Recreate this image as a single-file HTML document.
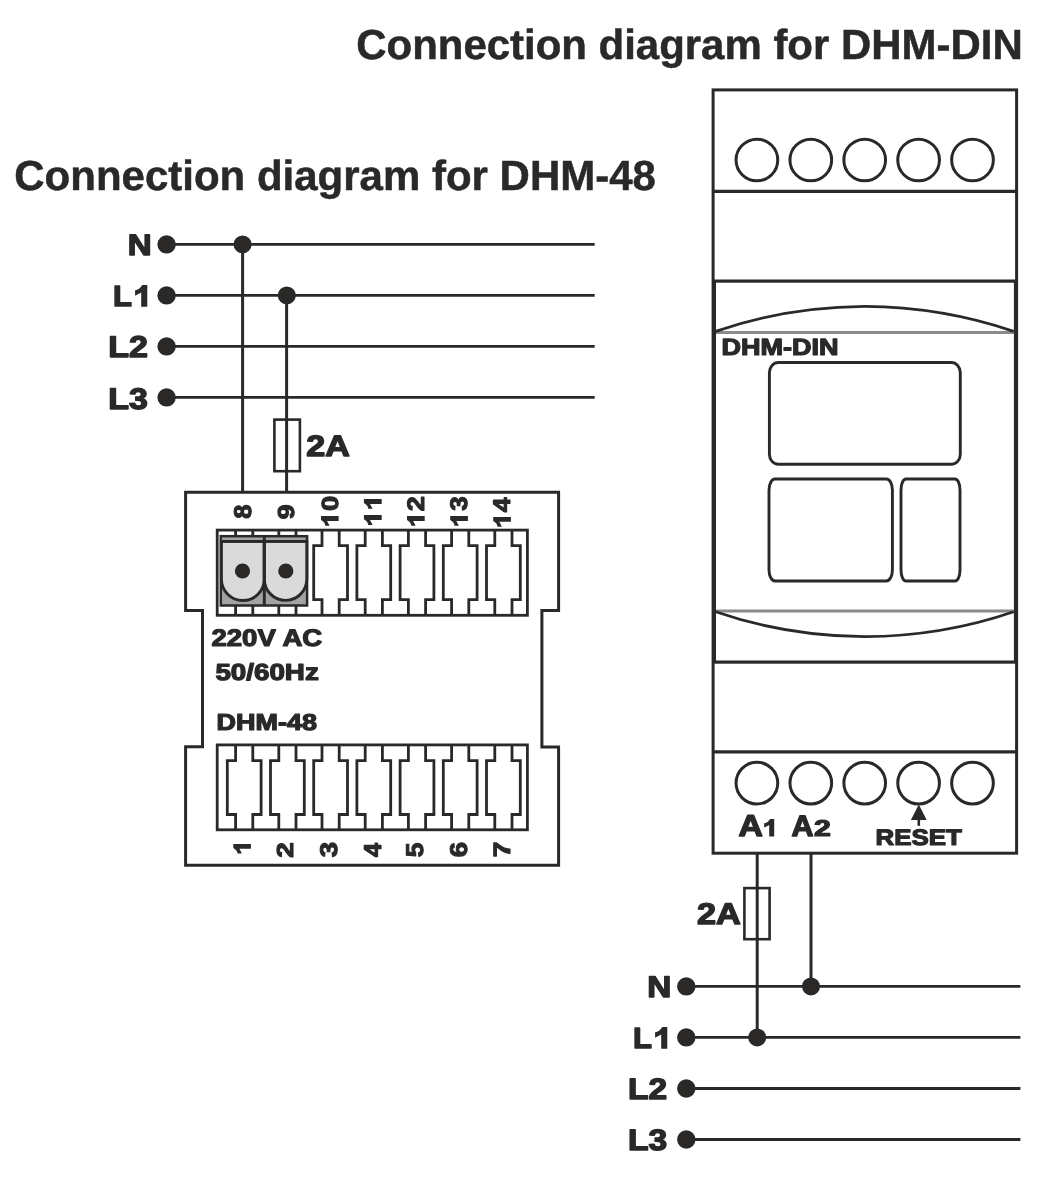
<!DOCTYPE html>
<html><head><meta charset="utf-8"><title>Connection diagrams</title>
<style>
html,body{margin:0;padding:0;background:#fff;}
body{width:1056px;height:1188px;overflow:hidden;}
svg{display:block;will-change:transform;}
text{font-family:'Liberation Sans',sans-serif;font-weight:bold;fill:#2a2928;text-rendering:geometricPrecision;}
</style></head><body>
<svg width="1056" height="1188" viewBox="0 0 1056 1188">
<line x1="166.6" y1="244.4" x2="594.7" y2="244.4" stroke="#2a2928" stroke-width="2.8"/>
<circle cx="166.6" cy="244.4" r="9.2" fill="#2a2928"/>
<line x1="166.6" y1="295.4" x2="594.7" y2="295.4" stroke="#2a2928" stroke-width="2.8"/>
<circle cx="166.6" cy="295.4" r="9.2" fill="#2a2928"/>
<line x1="166.6" y1="346.4" x2="594.7" y2="346.4" stroke="#2a2928" stroke-width="2.8"/>
<circle cx="166.6" cy="346.4" r="9.2" fill="#2a2928"/>
<line x1="166.6" y1="397.4" x2="594.7" y2="397.4" stroke="#2a2928" stroke-width="2.8"/>
<circle cx="166.6" cy="397.4" r="9.2" fill="#2a2928"/>
<line x1="242.6" y1="244.4" x2="242.6" y2="492.2" stroke="#2a2928" stroke-width="3"/>
<line x1="286.6" y1="295.4" x2="286.6" y2="492.2" stroke="#2a2928" stroke-width="3"/>
<circle cx="242.6" cy="244.4" r="9" fill="#2a2928"/>
<circle cx="286.8" cy="295.4" r="9" fill="#2a2928"/>
<rect x="274.4" y="419.6" width="25.5" height="51.6" fill="none" stroke="#2a2928" stroke-width="2.6"/>
<path d="M185.6 492.2 H558.6 V610.4 H541.9 V746.9 H558.6 V865.2 H185.6 V746.8 H202.5 V610.5 H185.6 Z" fill="none" stroke="#2a2928" stroke-width="3"/>
<rect x="217.2" y="530.1" width="310.2" height="85.19999999999993" fill="none" stroke="#2a2928" stroke-width="2.8"/>
<path d="M235.6 530.1 V545.7 H227.3 V599.7 H235.6 V615.3 M252.8 530.1 V545.7 H261.1 V599.7 H252.8 V615.3" fill="none" stroke="#2a2928" stroke-width="2.8"/>
<path d="M278.8 530.1 V545.7 H270.5 V599.7 H278.8 V615.3 M296.0 530.1 V545.7 H304.3 V599.7 H296.0 V615.3" fill="none" stroke="#2a2928" stroke-width="2.8"/>
<path d="M322.0 530.1 V545.7 H313.7 V599.7 H322.0 V615.3 M339.2 530.1 V545.7 H347.5 V599.7 H339.2 V615.3" fill="none" stroke="#2a2928" stroke-width="2.8"/>
<path d="M365.2 530.1 V545.7 H356.9 V599.7 H365.2 V615.3 M382.4 530.1 V545.7 H390.7 V599.7 H382.4 V615.3" fill="none" stroke="#2a2928" stroke-width="2.8"/>
<path d="M408.4 530.1 V545.7 H400.1 V599.7 H408.4 V615.3 M425.6 530.1 V545.7 H433.9 V599.7 H425.6 V615.3" fill="none" stroke="#2a2928" stroke-width="2.8"/>
<path d="M451.6 530.1 V545.7 H443.3 V599.7 H451.6 V615.3 M468.8 530.1 V545.7 H477.1 V599.7 H468.8 V615.3" fill="none" stroke="#2a2928" stroke-width="2.8"/>
<path d="M494.8 530.1 V545.7 H486.5 V599.7 H494.8 V615.3 M512.0 530.1 V545.7 H520.3 V599.7 H512.0 V615.3" fill="none" stroke="#2a2928" stroke-width="2.8"/>
<rect x="217.2" y="744.9" width="310.2" height="84.89999999999998" fill="none" stroke="#2a2928" stroke-width="2.8"/>
<path d="M235.6 744.9 V760.6 H227.3 V814.5 H235.6 V829.8 M252.8 744.9 V760.6 H261.1 V814.5 H252.8 V829.8" fill="none" stroke="#2a2928" stroke-width="2.8"/>
<path d="M278.8 744.9 V760.6 H270.5 V814.5 H278.8 V829.8 M296.0 744.9 V760.6 H304.3 V814.5 H296.0 V829.8" fill="none" stroke="#2a2928" stroke-width="2.8"/>
<path d="M322.0 744.9 V760.6 H313.7 V814.5 H322.0 V829.8 M339.2 744.9 V760.6 H347.5 V814.5 H339.2 V829.8" fill="none" stroke="#2a2928" stroke-width="2.8"/>
<path d="M365.2 744.9 V760.6 H356.9 V814.5 H365.2 V829.8 M382.4 744.9 V760.6 H390.7 V814.5 H382.4 V829.8" fill="none" stroke="#2a2928" stroke-width="2.8"/>
<path d="M408.4 744.9 V760.6 H400.1 V814.5 H408.4 V829.8 M425.6 744.9 V760.6 H433.9 V814.5 H425.6 V829.8" fill="none" stroke="#2a2928" stroke-width="2.8"/>
<path d="M451.6 744.9 V760.6 H443.3 V814.5 H451.6 V829.8 M468.8 744.9 V760.6 H477.1 V814.5 H468.8 V829.8" fill="none" stroke="#2a2928" stroke-width="2.8"/>
<path d="M494.8 744.9 V760.6 H486.5 V814.5 H494.8 V829.8 M512.0 744.9 V760.6 H520.3 V814.5 H512.0 V829.8" fill="none" stroke="#2a2928" stroke-width="2.8"/>
<rect x="220.8" y="536.2" width="86.3" height="69.3" fill="#a2a3a2" stroke="#2a2928" stroke-width="2.5"/>
<path d="M221.4 541.4 V579.1 A21.45 21.45 0 0 0 264.3 579.1 V541.4 Z" fill="#d9dad9" stroke="#2a2928" stroke-width="2.9"/>
<path d="M264.3 541.4 V579.1 A21.25 21.25 0 0 0 306.8 579.1 V541.4 Z" fill="#d9dad9" stroke="#2a2928" stroke-width="2.9"/>
<line x1="220.8" y1="541.4" x2="307.1" y2="541.4" stroke="#2a2928" stroke-width="2.7"/>
<line x1="264.3" y1="536.2" x2="264.3" y2="605.5" stroke="#2a2928" stroke-width="3"/>
<circle cx="242.5" cy="571" r="7.6" fill="#2a2928"/>
<circle cx="285.8" cy="571" r="7.6" fill="#2a2928"/>
<rect x="713.1" y="89.9" width="303.5" height="763.3" fill="none" stroke="#2a2928" stroke-width="3"/>
<line x1="713.1" y1="191.3" x2="1016.6" y2="191.3" stroke="#2a2928" stroke-width="3.2"/>
<line x1="713.1" y1="751.9" x2="1016.6" y2="751.9" stroke="#2a2928" stroke-width="3.2"/>
<rect x="714.4" y="281.1" width="301.1" height="381" fill="none" stroke="#2a2928" stroke-width="3.2"/>
<circle cx="756.9" cy="160" r="20.85" fill="none" stroke="#2a2928" stroke-width="3.0"/>
<circle cx="756.9" cy="783.1" r="20.85" fill="none" stroke="#2a2928" stroke-width="3.0"/>
<circle cx="810.8" cy="160" r="20.85" fill="none" stroke="#2a2928" stroke-width="3.0"/>
<circle cx="810.8" cy="783.1" r="20.85" fill="none" stroke="#2a2928" stroke-width="3.0"/>
<circle cx="864.7" cy="160" r="20.85" fill="none" stroke="#2a2928" stroke-width="3.0"/>
<circle cx="864.7" cy="783.1" r="20.85" fill="none" stroke="#2a2928" stroke-width="3.0"/>
<circle cx="918.6" cy="160" r="20.85" fill="none" stroke="#2a2928" stroke-width="3.0"/>
<circle cx="918.6" cy="783.1" r="20.85" fill="none" stroke="#2a2928" stroke-width="3.0"/>
<circle cx="972.5" cy="160" r="20.85" fill="none" stroke="#2a2928" stroke-width="3.0"/>
<circle cx="972.5" cy="783.1" r="20.85" fill="none" stroke="#2a2928" stroke-width="3.0"/>
<line x1="716" y1="332.5" x2="1014" y2="332.5" stroke="#8a8a8a" stroke-width="2.8"/>
<line x1="716" y1="610.95" x2="1014" y2="610.95" stroke="#8a8a8a" stroke-width="3.0"/>
<path d="M715.7 331.4 Q786.2 307 864.5 306.4 Q942.8 307 1013.7 331.4" fill="none" stroke="#2a2928" stroke-width="2.8"/>
<path d="M715.7 611.7 Q786.2 636.1 864.5 636.7 Q942.8 636.1 1013.7 611.7" fill="none" stroke="#2a2928" stroke-width="2.8"/>
<rect x="769.4" y="362.5" width="190.9" height="101.8" rx="9" ry="10" fill="none" stroke="#2a2928" stroke-width="2.9"/>
<rect x="769" y="479" width="123.4" height="102" rx="6" ry="11" fill="none" stroke="#2a2928" stroke-width="2.9"/>
<rect x="901" y="479" width="59" height="102" rx="5" ry="11" fill="none" stroke="#2a2928" stroke-width="2.9"/>
<path d="M918.8 804.6 L926.7 819.9 L910.9 819.9 Z" fill="#2a2928"/>
<line x1="918.8" y1="818" x2="918.8" y2="825.8" stroke="#2a2928" stroke-width="2.6"/>
<line x1="757.2" y1="853" x2="757.2" y2="1037.4" stroke="#2a2928" stroke-width="3"/>
<line x1="811" y1="853" x2="811" y2="986.4" stroke="#2a2928" stroke-width="3"/>
<rect x="744.4" y="888.1" width="25.2" height="51.1" fill="none" stroke="#2a2928" stroke-width="2.6"/>
<line x1="686.3" y1="986.4" x2="1020.4" y2="986.4" stroke="#2a2928" stroke-width="2.8"/>
<circle cx="686.3" cy="986.4" r="9.2" fill="#2a2928"/>
<line x1="686.3" y1="1037.4" x2="1020.4" y2="1037.4" stroke="#2a2928" stroke-width="2.8"/>
<circle cx="686.3" cy="1037.4" r="9.2" fill="#2a2928"/>
<line x1="686.3" y1="1088.5" x2="1020.4" y2="1088.5" stroke="#2a2928" stroke-width="2.8"/>
<circle cx="686.3" cy="1088.5" r="9.2" fill="#2a2928"/>
<line x1="686.3" y1="1139.5" x2="1020.4" y2="1139.5" stroke="#2a2928" stroke-width="2.8"/>
<circle cx="686.3" cy="1139.5" r="9.2" fill="#2a2928"/>
<circle cx="811" cy="986.4" r="9" fill="#2a2928"/>
<circle cx="757.2" cy="1037.4" r="9" fill="#2a2928"/>
<text transform="translate(356.26 58.65) rotate(0.01)" x="0" y="0" font-size="42.00" stroke="#2a2928" stroke-width="0.5" stroke-linejoin="round" textLength="666.41" lengthAdjust="spacingAndGlyphs">Connection diagram for DHM-DIN</text>
<text transform="translate(14.24 190.20) rotate(0.01)" x="0" y="0" font-size="42.00" stroke="#2a2928" stroke-width="0.5" stroke-linejoin="round" textLength="641.69" lengthAdjust="spacingAndGlyphs">Connection diagram for DHM-48</text>
<text transform="translate(127.63 255.18) rotate(0.01)" x="0" y="0" font-size="29.55" stroke="#2a2928" stroke-width="1.4" stroke-linejoin="round" textLength="23.90" lengthAdjust="spacingAndGlyphs">N</text>
<text transform="translate(112.96 305.68) rotate(0.01)" x="0" y="0" font-size="29.24" stroke="#2a2928" stroke-width="1.4" stroke-linejoin="round" textLength="18.96" lengthAdjust="spacingAndGlyphs">L</text>
<text transform="translate(108.29 357.43) rotate(0.01)" x="0" y="0" font-size="30.03" stroke="#2a2928" stroke-width="1.4" stroke-linejoin="round" textLength="39.72" lengthAdjust="spacingAndGlyphs">L2</text>
<text transform="translate(108.31 408.52) rotate(0.01)" x="0" y="0" font-size="29.71" stroke="#2a2928" stroke-width="1.4" stroke-linejoin="round" textLength="39.58" lengthAdjust="spacingAndGlyphs">L3</text>
<text transform="translate(306.25 456.18) rotate(0.01)" x="0" y="0" font-size="29.59" stroke="#2a2928" stroke-width="1.4" stroke-linejoin="round" textLength="43.55" lengthAdjust="spacingAndGlyphs">2A</text>
<text transform="translate(211.45 646.31) rotate(0.01)" x="0" y="0" font-size="24.00" stroke="#2a2928" stroke-width="1.2" stroke-linejoin="round" textLength="110.80" lengthAdjust="spacingAndGlyphs">220V AC</text>
<text transform="translate(215.38 680.36) rotate(0.01)" x="0" y="0" font-size="23.29" stroke="#2a2928" stroke-width="1.2" stroke-linejoin="round" textLength="103.40" lengthAdjust="spacingAndGlyphs">50/60Hz</text>
<text transform="translate(216.54 730.35) rotate(0.01)" x="0" y="0" font-size="22.95" stroke="#2a2928" stroke-width="1.2" stroke-linejoin="round" textLength="100.35" lengthAdjust="spacingAndGlyphs">DHM-48</text>
<text transform="translate(721.42 355.19) rotate(0.01)" x="0" y="0" font-size="23.42" stroke="#2a2928" stroke-width="1.2" stroke-linejoin="round" textLength="117.17" lengthAdjust="spacingAndGlyphs">DHM-DIN</text>
<text transform="translate(875.62 844.70) rotate(0.01)" x="0" y="0" font-size="22.44" stroke="#2a2928" stroke-width="1.2" stroke-linejoin="round" textLength="86.25" lengthAdjust="spacingAndGlyphs">RESET</text>
<text transform="translate(738.54 836.43) rotate(0.01)" x="0" y="0" font-size="30.10" stroke="#2a2928" stroke-width="1.4" stroke-linejoin="round" textLength="24.32" lengthAdjust="spacingAndGlyphs">A</text>
<text transform="translate(791.38 836.18) rotate(0.01)" x="0" y="0" font-size="29.47" stroke="#2a2928" stroke-width="1.4" stroke-linejoin="round" textLength="21.98" lengthAdjust="spacingAndGlyphs">A</text>
<text transform="translate(813.91 836.44) rotate(0.01)" x="0" y="0" font-size="22.90" stroke="#2a2928" stroke-width="1.2" stroke-linejoin="round" textLength="16.80" lengthAdjust="spacingAndGlyphs">2</text>
<text transform="translate(696.95 924.43) rotate(0.01)" x="0" y="0" font-size="29.92" stroke="#2a2928" stroke-width="1.4" stroke-linejoin="round" textLength="43.79" lengthAdjust="spacingAndGlyphs">2A</text>
<text transform="translate(647.36 997.43) rotate(0.01)" x="0" y="0" font-size="30.06" stroke="#2a2928" stroke-width="1.4" stroke-linejoin="round" textLength="24.08" lengthAdjust="spacingAndGlyphs">N</text>
<text transform="translate(633.00 1047.68) rotate(0.01)" x="0" y="0" font-size="29.16" stroke="#2a2928" stroke-width="1.4" stroke-linejoin="round" textLength="18.94" lengthAdjust="spacingAndGlyphs">L</text>
<text transform="translate(627.95 1098.93) rotate(0.01)" x="0" y="0" font-size="29.49" stroke="#2a2928" stroke-width="1.4" stroke-linejoin="round" textLength="39.07" lengthAdjust="spacingAndGlyphs">L2</text>
<text transform="translate(627.92 1150.26) rotate(0.01)" x="0" y="0" font-size="29.57" stroke="#2a2928" stroke-width="1.4" stroke-linejoin="round" textLength="39.21" lengthAdjust="spacingAndGlyphs">L3</text>
<text transform="translate(250.62 511.68) rotate(-90)" x="-7.13" y="0" font-size="24.19" stroke="#2a2928" stroke-width="1.1" stroke-linejoin="round" textLength="14.27" lengthAdjust="spacingAndGlyphs">8</text>
<text transform="translate(294.45 511.93) rotate(-90)" x="-7.44" y="0" font-size="23.09" stroke="#2a2928" stroke-width="1.1" stroke-linejoin="round" textLength="14.89" lengthAdjust="spacingAndGlyphs">9</text>
<text transform="translate(338.15 503.43) rotate(-90)" x="-7.64" y="0" font-size="23.33" stroke="#2a2928" stroke-width="1.1" stroke-linejoin="round" textLength="15.28" lengthAdjust="spacingAndGlyphs">0</text>
<text transform="translate(424.45 503.61) rotate(-90)" x="-7.55" y="0" font-size="23.88" stroke="#2a2928" stroke-width="1.1" stroke-linejoin="round" textLength="15.09" lengthAdjust="spacingAndGlyphs">2</text>
<text transform="translate(467.30 503.51) rotate(-90)" x="-7.22" y="0" font-size="24.02" stroke="#2a2928" stroke-width="1.1" stroke-linejoin="round" textLength="14.45" lengthAdjust="spacingAndGlyphs">3</text>
<text transform="translate(510.15 504.86) rotate(-90)" x="-7.43" y="0" font-size="24.11" stroke="#2a2928" stroke-width="1.1" stroke-linejoin="round" textLength="14.86" lengthAdjust="spacingAndGlyphs">4</text>
<text transform="translate(293.40 849.86) rotate(-90)" x="-7.79" y="0" font-size="23.14" stroke="#2a2928" stroke-width="1.1" stroke-linejoin="round" textLength="15.58" lengthAdjust="spacingAndGlyphs">2</text>
<text transform="translate(337.32 849.67) rotate(-90)" x="-7.66" y="0" font-size="24.16" stroke="#2a2928" stroke-width="1.1" stroke-linejoin="round" textLength="15.32" lengthAdjust="spacingAndGlyphs">3</text>
<text transform="translate(380.53 849.95) rotate(-90)" x="-7.06" y="0" font-size="24.45" stroke="#2a2928" stroke-width="1.1" stroke-linejoin="round" textLength="14.12" lengthAdjust="spacingAndGlyphs">4</text>
<text transform="translate(423.44 849.82) rotate(-90)" x="-7.36" y="0" font-size="24.24" stroke="#2a2928" stroke-width="1.1" stroke-linejoin="round" textLength="14.72" lengthAdjust="spacingAndGlyphs">5</text>
<text transform="translate(466.54 849.61) rotate(-90)" x="-7.65" y="0" font-size="24.23" stroke="#2a2928" stroke-width="1.1" stroke-linejoin="round" textLength="15.29" lengthAdjust="spacingAndGlyphs">6</text>
<text transform="translate(509.79 849.55) rotate(-90)" x="-7.80" y="0" font-size="23.61" stroke="#2a2928" stroke-width="1.1" stroke-linejoin="round" textLength="15.59" lengthAdjust="spacingAndGlyphs">7</text>
<path transform="matrix(12.200 0 0 21.600 135.10 285.10)" d="M0.5 1 L1 1 L1 0 L0.589 0 Q0.35 0.228 0 0.244 L0 0.4875 Q0.216 0.434 0.5 0.344 Z" fill="#2a2928"/>
<path transform="matrix(12.200 0 0 21.600 655.10 1027.10)" d="M0.5 1 L1 1 L1 0 L0.589 0 Q0.35 0.228 0 0.244 L0 0.4875 Q0.216 0.434 0.5 0.344 Z" fill="#2a2928"/>
<path transform="matrix(10.000 0 0 17.400 764.20 819.10)" d="M0.5 1 L1 1 L1 0 L0.589 0 Q0.35 0.228 0 0.244 L0 0.4875 Q0.216 0.434 0.5 0.344 Z" fill="#2a2928"/>
<path transform="matrix(0 -9.700 17.600 0 321.00 525.80)" d="M0.5 1 L1 1 L1 0 L0.589 0 Q0.35 0.228 0 0.244 L0 0.4875 Q0.216 0.434 0.5 0.344 Z" fill="#2a2928"/>
<path transform="matrix(0 -9.800 17.800 0 363.90 508.80)" d="M0.5 1 L1 1 L1 0 L0.589 0 Q0.35 0.228 0 0.244 L0 0.4875 Q0.216 0.434 0.5 0.344 Z" fill="#2a2928"/>
<path transform="matrix(0 -9.800 17.800 0 363.90 524.90)" d="M0.5 1 L1 1 L1 0 L0.589 0 Q0.35 0.228 0 0.244 L0 0.4875 Q0.216 0.434 0.5 0.344 Z" fill="#2a2928"/>
<path transform="matrix(0 -9.800 17.700 0 407.00 525.80)" d="M0.5 1 L1 1 L1 0 L0.589 0 Q0.35 0.228 0 0.244 L0 0.4875 Q0.216 0.434 0.5 0.344 Z" fill="#2a2928"/>
<path transform="matrix(0 -9.800 17.700 0 450.20 525.80)" d="M0.5 1 L1 1 L1 0 L0.589 0 Q0.35 0.228 0 0.244 L0 0.4875 Q0.216 0.434 0.5 0.344 Z" fill="#2a2928"/>
<path transform="matrix(0 -9.700 17.700 0 493.20 526.70)" d="M0.5 1 L1 1 L1 0 L0.589 0 Q0.35 0.228 0 0.244 L0 0.4875 Q0.216 0.434 0.5 0.344 Z" fill="#2a2928"/>
<path transform="matrix(0 -9.500 17.600 0 233.30 853.60)" d="M0.5 1 L1 1 L1 0 L0.589 0 Q0.35 0.228 0 0.244 L0 0.4875 Q0.216 0.434 0.5 0.344 Z" fill="#2a2928"/>
</svg>
</body></html>
